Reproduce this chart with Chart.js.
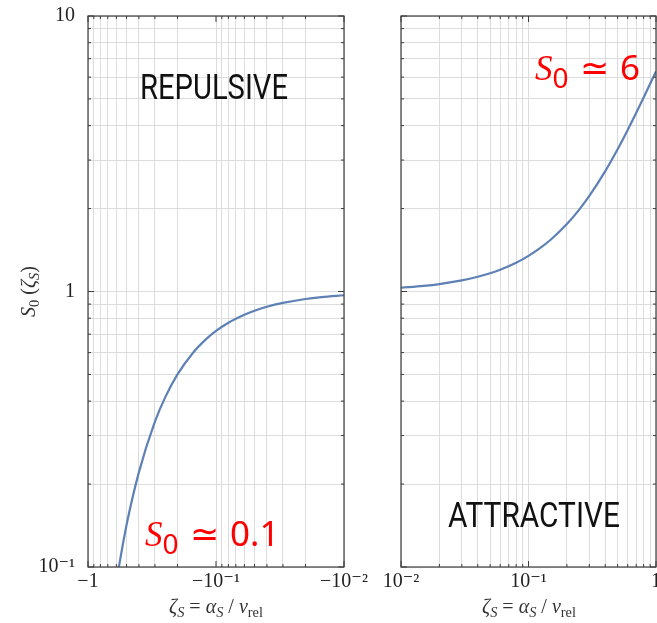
<!DOCTYPE html>
<html>
<head>
<meta charset="utf-8">
<script src="https://cdn.jsdelivr.net/npm/chart.js@4.4.1/dist/chart.umd.min.js"></script>
<style>
  html, body { margin: 0; padding: 0; overflow: hidden; background: #fff; }
  #wrap { position: relative; width: 657px; height: 623px; overflow: hidden; }
  #rep { position: absolute; left: 0; top: 0; }
  #att { position: absolute; left: 372px; top: 0; }
</style>
</head>
<body>
<div id="wrap">
  <canvas id="rep" width="372" height="623"></canvas>
  <canvas id="att" width="330" height="623"></canvas>
</div>
<script>
/* Sommerfeld factor, two panels – repulsive (left) and attractive (right) */

// repulsive branch, zeta < 0
const zetaRep = [-0.6, -0.5, -0.4, -0.3, -0.25, -0.2, -0.15, -0.12, -0.1, -0.08, -0.06, -0.05, -0.04, -0.03, -0.02, -0.015, -0.01]
const s0Rep   = [0.089, 0.142, 0.221, 0.337, 0.412, 0.500, 0.602, 0.670, 0.719, 0.770, 0.823, 0.851, 0.880, 0.909, 0.939, 0.954, 0.969]

// attractive branch, zeta > 0
const zetaAtt = [0.01, 0.015, 0.02, 0.03, 0.04, 0.05, 0.06, 0.08, 0.1, 0.12, 0.15, 0.2, 0.25, 0.3, 0.4, 0.5, 0.6, 0.7, 0.8, 0.9, 1]
const s0Att   = [1.032, 1.048, 1.064, 1.097, 1.131, 1.165, 1.200, 1.272, 1.347, 1.424, 1.544, 1.757, 1.983, 2.222, 2.735, 3.284, 3.859, 4.453, 5.060, 5.675, 6.295]

// tick labels (only decades get a label)
const yDecades    = [0.1, 1, 10]
const yLabels     = ['10⁻¹', '1', '10']
const xDecadesRep = [1, 0.1, 0.01]
const xLabelsRep  = ['−1', '−10⁻¹', '−10⁻²']
const xDecadesAtt = [0.01, 0.1, 1]
const xLabelsAtt  = ['10⁻²', '10⁻¹', '1']

const LINE  = '#5e81b5'
const GRID  = '#dcdcdc'
const FRAME = '#3c3c3c'
const SERIF = '"Liberation Serif", "DejaVu Serif", serif'
const I = 'italic # ' + SERIF
const R = '# ' + SERIF

function logTicks (lo, hi) {
  const out = []
  for (let d = lo; d < hi * 0.999; d *= 10)
    for (let k = 1; k < 10; k++) out.push(+(k * d).toPrecision(6))
  out.push(hi)
  return out
}

const isDecade = (v, decs) => decs.some(d => Math.abs(v / d - 1) < 1e-6)

function labelFor (v, decs, labs) {
  const i = decs.findIndex(d => Math.abs(v / d - 1) < 1e-6)
  return i < 0 ? '' : labs[i]
}

function logAxis (min, max, decs, labs, o) {
  return {
    type: 'logarithmic',
    min, max,
    reverse: !!o.reverse,
    afterBuildTicks: s => { s.ticks = logTicks(min, max).map(value => ({ value })) },
    afterFit: s => {
      // fixed axis size, and no extra room for overhanging labels
      if (s.isHorizontal()) s.height = o.size; else s.width = o.size
      s.paddingTop = s.paddingBottom = s.paddingLeft = s.paddingRight = 0
    },
    grid: { color: GRID, lineWidth: 1, drawTicks: false },
    border: { display: false },
    ticks: {
      display: o.labels !== false,
      autoSkip: false,
      maxRotation: 0,
      padding: o.pad || 0,
      color: '#222',
      font: { family: SERIF, size: 20 },
      callback: v => labelFor(v, decs, labs)
    }
  }
}

// text in pieces: [text, font, isSub]
function rich (ctx, parts, x, y, size, color, align) {
  let w = 0
  const run = parts.map(([t, f, sub]) => {
    const sz = sub ? size * (sub === true ? 0.72 : sub) : size
    const font = f.replace('#', sz.toFixed(1) + 'px')
    ctx.font = font
    const pw = ctx.measureText(t).width
    w += pw
    return { t, font, pw, dy: sub ? size * 0.22 : 0 }
  })
  let cx = align === 'left' ? x : x - w / 2
  ctx.fillStyle = color
  ctx.textAlign = 'left'
  ctx.textBaseline = 'alphabetic'
  run.forEach(r => { ctx.font = r.font; ctx.fillText(r.t, cx, y + r.dy); cx += r.pw })
}

// plain label squeezed to a given width (condensed look)
function squeezed (ctx, text, cx, y, size, width) {
  ctx.save()
  ctx.font = size + 'px "Liberation Sans Narrow", Roboto, "Liberation Sans", sans-serif'
  const w = ctx.measureText(text).width
  ctx.translate(cx, y)
  ctx.scale(width / w, 1)
  ctx.fillStyle = '#111'
  ctx.textAlign = 'center'
  ctx.textBaseline = 'alphabetic'
  ctx.fillText(text, 0, 0)
  ctx.restore()
}

const xTitle = [['ζ', I], ['S', I, true], [' = ', R], ['α', I], ['S', I, true], [' / ', R], ['v', I], ['rel', R, true]]

function framePlugin (xDecs, notes) {
  return {
    id: 'frame',
    afterDraw (chart) {
      const { ctx, chartArea: a, scales } = chart
      ctx.save()
      ctx.strokeStyle = FRAME
      ctx.lineWidth = 1.2
      ctx.strokeRect(a.left, a.top, a.right - a.left, a.bottom - a.top)
      ctx.lineWidth = 1
      ctx.beginPath()
      scales.x.ticks.forEach(t => {
        const px = scales.x.getPixelForValue(t.value)
        const L = isDecade(t.value, xDecs) ? 6 : 3
        ctx.moveTo(px, a.bottom); ctx.lineTo(px, a.bottom - L)
        ctx.moveTo(px, a.top);    ctx.lineTo(px, a.top + L)
      })
      scales.y.ticks.forEach(t => {
        const py = scales.y.getPixelForValue(t.value)
        const L = isDecade(t.value, yDecades) ? 6 : 3
        ctx.moveTo(a.left, py);  ctx.lineTo(a.left + L, py)
        ctx.moveTo(a.right, py); ctx.lineTo(a.right - L, py)
      })
      ctx.stroke()
      ctx.restore()
      ctx.save()
      notes(ctx, a)
      ctx.restore()
    }
  }
}

function makeChart (canvas, zeta, s0, xAxis, yAxis, padding, plugin) {
  return new Chart(canvas, {
    type: 'line',
    data: {
      datasets: [{
        data: zeta.map((z, i) => ({ x: Math.abs(z), y: s0[i] })),
        borderColor: LINE,
        borderWidth: 2.2,
        pointRadius: 0,
        cubicInterpolationMode: 'monotone'
      }]
    },
    options: {
      responsive: false,
      animation: false,
      events: [],
      layout: { padding },
      plugins: { legend: { display: false }, tooltip: { enabled: false } },
      scales: { x: xAxis, y: yAxis }
    },
    plugins: [plugin]
  })
}

function init () {
  makeChart(
    document.getElementById('rep'), zetaRep, s0Rep,
    logAxis(0.01, 1, xDecadesRep, xLabelsRep, { size: 56, pad: 3, reverse: true }),
    logAxis(0.1, 10, yDecades, yLabels, { size: 88, pad: 13 }),
    { top: 16, right: 28, left: 0, bottom: 0 },
    framePlugin(xDecadesRep, (ctx, a) => {
      rich(ctx, xTitle, (a.left + a.right) / 2, 613, 20, '#333')
      ctx.save()
      ctx.translate(35, (a.top + a.bottom) / 2)
      ctx.rotate(-Math.PI / 2)
      rich(ctx, [['S', I], ['0', R, true], [' (', R], ['ζ', I], ['S', I, true], [')', R]], 0, 0, 20, '#333')
      ctx.restore()
      squeezed(ctx, 'REPULSIVE', 214, 99, 35, 148)
      rich(ctx, [['S', I], ['0', '# "Noto Sans"', 0.8], [' ≃ ', '# "DejaVu Sans"'], ['0.1', '# "Noto Sans"']], 145, 546, 35, '#ff0000', 'left')
    })
  )

  makeChart(
    document.getElementById('att'), zetaAtt, s0Att,
    logAxis(0.01, 1, xDecadesAtt, xLabelsAtt, { size: 56, pad: 3 }),
    logAxis(0.1, 10, yDecades, yLabels, { size: 29, labels: false }),
    { top: 16, right: 46, left: 0, bottom: 0 },
    framePlugin(xDecadesAtt, (ctx, a) => {
      rich(ctx, xTitle, 529 - 372, 613, 20, '#333')
      squeezed(ctx, 'ATTRACTIVE', 534 - 372, 527, 35, 172)
      rich(ctx, [['S', I], ['0', '# "Noto Sans"', 0.8], [' ≃ ', '# "DejaVu Sans"'], ['6', '# "Noto Sans"']], 535 - 372, 80, 35, '#ff0000', 'left')
    })
  )
}

document.readyState === 'loading'
  ? document.addEventListener('DOMContentLoaded', init, { once: true })
  : init()
</script>
</body>
</html>
